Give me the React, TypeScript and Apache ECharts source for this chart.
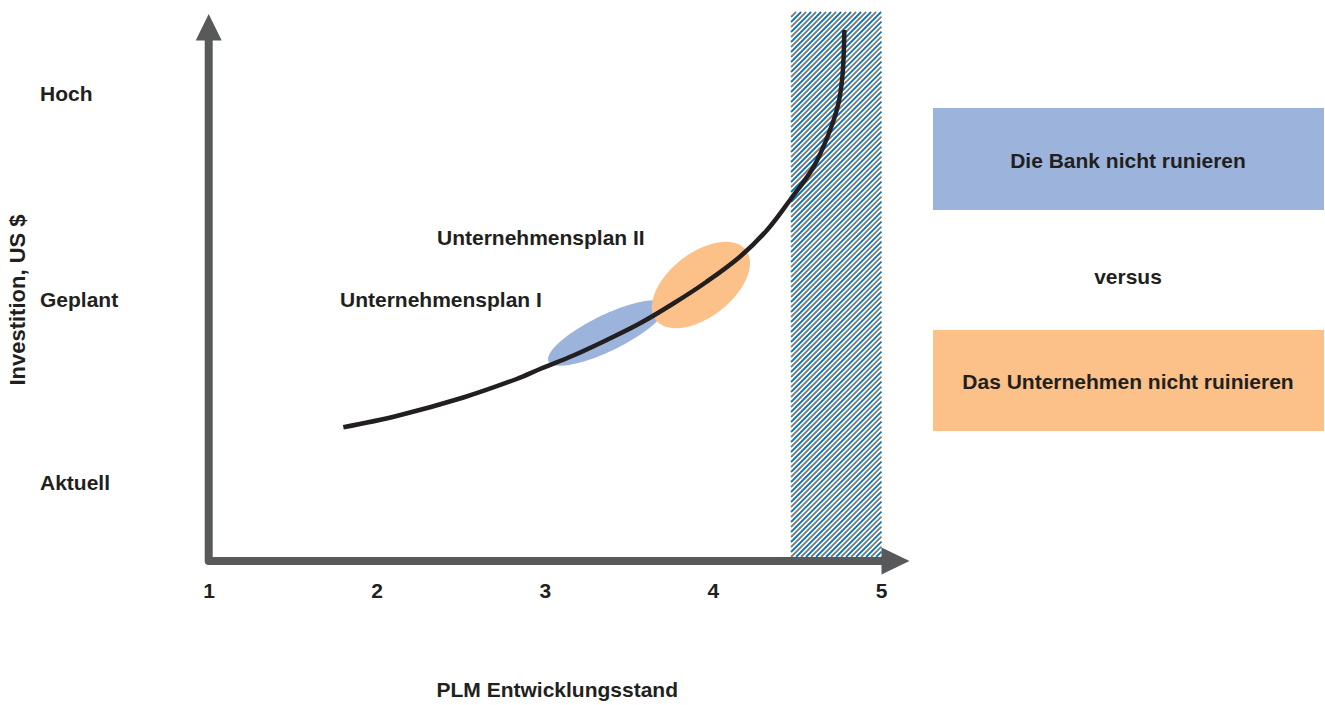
import React, { useEffect, useRef } from 'react';
import * as echarts from 'echarts';

// ---- data ----
const xTicks = [1, 2, 3, 4, 5];
const yTickValues = [13.6, 47.2, 85.1];
const yTickLabels = ['Aktuell', 'Geplant', 'Hoch'];
const curveX = [1.799, 2.116, 2.513, 2.83, 2.969, 3.167, 3.366, 3.564, 3.762, 3.96, 4.158, 4.317, 4.456, 4.594, 4.683, 4.743, 4.769, 4.779];
const curveY = [23.8, 25.87, 29.27, 32.66, 34.5, 36.97, 39.82, 42.88, 46.51, 50.51, 55.1, 59.91, 65.5, 71.47, 77.43, 83.12, 88.75, 96.7];
const zoneX = [4.462, 5];
const zoneY = [0, 100];
const planNames = ['Unternehmensplan I', 'Unternehmensplan II'];
const planCenterX = [3.367, 3.926];
const planCenterY = [41.1, 49.9];
const boxTexts = ['Die Bank nicht runieren', 'versus', 'Das Unternehmen nicht ruinieren'];
const xAxisTitle = 'PLM Entwicklungsstand';
const yAxisTitle = 'Investition, US $';

// ---- styles ----
const FONT = "'Liberation Sans', Arial, sans-serif";
const TEXT = '#231f20';
const AXIS = '#58595b';
const BLUE_FILL = '#9cb4dc';
const ORANGE_FILL = '#fbc189';
const STRIPE_BLUE = '#0b73bb';
const STRIPE_GRAY = '#7d7d7d';
const ellipseShapes = [
  { a: 65, b: 18, rot: 26, fill: BLUE_FILL },
  { a: 57, b: 32, rot: 38, fill: ORANGE_FILL },
];

export default function App() {
  const ref = useRef<HTMLDivElement>(null);
  useEffect(() => {
    if (!ref.current) return;
    const chart = echarts.init(ref.current, null, { renderer: 'svg' });
    const textBase = { fontFamily: FONT, fontWeight: 'bold', color: TEXT };
    const gText = (text: string, x: number, y: number, size: number, align: string, rotation = 0) => ({
      type: 'text',
      x,
      y,
      rotation,
      style: {
        text,
        fontFamily: FONT,
        fontWeight: 'bold',
        fontSize: size,
        fill: TEXT,
        textAlign: align,
        textVerticalAlign: 'middle',
      },
    });
    const option: any = {
      animation: false,
      backgroundColor: '#ffffff',
      grid: { left: 209, right: 443.5, top: 12, bottom: 148, containLabel: false },
      xAxis: {
        type: 'value',
        min: xTicks[0],
        max: xTicks[xTicks.length - 1],
        interval: 1,
        axisLine: { show: false },
        axisTick: { show: false },
        splitLine: { show: false },
        axisLabel: { ...textBase, fontSize: 21, margin: 23 },
        name: xAxisTitle,
        nameLocation: 'middle',
        nameGap: 122,
        nameTextStyle: { ...textBase, fontSize: 21, padding: [0, 0, 0, 24] },
      },
      yAxis: {
        type: 'value',
        min: 0,
        max: 100,
        axisLine: { show: false },
        axisTick: { show: false },
        splitLine: { show: false },
        axisLabel: {
          ...textBase,
          fontSize: 21,
          align: 'left',
          margin: 169,
          customValues: yTickValues,
          formatter: (v: number) => {
            const i = yTickValues.findIndex((t) => Math.abs(t - v) < 1e-6);
            return i >= 0 ? yTickLabels[i] : '';
          },
        },
      },
      series: [
        {
          type: 'custom',
          name: 'zone',
          clip: false,
          z: 1,
          data: [[zoneX[0], zoneX[1], zoneY[0], zoneY[1]]],
          renderItem: (params: any, api: any) => {
            const p0 = api.coord([api.value(0), api.value(3)]);
            const p1 = api.coord([api.value(1), api.value(2)]);
            const x0 = p0[0], y0 = p0[1], x1 = p1[0], y1 = p1[1];
            const children: any[] = [];
            const step = 5;
            let k = 0;
            for (let c = x0 + y0; c <= x1 + y1 + step; c += step, k++) {
              const xa = Math.max(x0, c - y1);
              const xb = Math.min(x1, c - y0);
              if (xb <= xa) continue;
              children.push({
                type: 'line',
                shape: { x1: xa, y1: c - xa, x2: xb, y2: c - xb },
                style: { stroke: k % 2 ? STRIPE_GRAY : STRIPE_BLUE, lineWidth: 1.8 },
              });
            }
            return { type: 'group', children };
          },
        },
        {
          type: 'custom',
          name: 'plans',
          clip: false,
          z: 2,
          data: planCenterX.map((x, i) => [x, planCenterY[i]]),
          renderItem: (params: any, api: any) => {
            const idx = params.dataIndex;
            const c = api.coord([api.value(0), api.value(1)]);
            const s = ellipseShapes[idx];
            const t = (s.rot * Math.PI) / 180;
            const pts: number[][] = [];
            for (let i = 0; i < 90; i++) {
              const th = (i / 90) * 2 * Math.PI;
              const ex = s.a * Math.cos(th);
              const ey = s.b * Math.sin(th);
              pts.push([c[0] + ex * Math.cos(t) + ey * Math.sin(t), c[1] - ex * Math.sin(t) + ey * Math.cos(t)]);
            }
            return { type: 'polygon', shape: { points: pts }, style: { fill: s.fill } };
          },
        },
        {
          type: 'line',
          name: 'Investition',
          z: 3,
          smooth: 0.35,
          showSymbol: false,
          clip: false,
          data: curveX.map((x, i) => [x, curveY[i]]),
          lineStyle: { color: TEXT, width: 4.5, cap: 'butt' },
        },
        {
          type: 'custom',
          name: 'axes',
          clip: false,
          z: 4,
          data: [[xTicks[0], zoneY[0]]],
          renderItem: (params: any, api: any) => {
            const cs = params.coordSys;
            const o = api.coord([xTicks[0], 0]);
            const e = api.coord([xTicks[xTicks.length - 1], 0]);
            const ax = o[0] - 0.3;
            const ay = o[1] + 4;
            const topY = cs.y + 28;
            const ex = e[0] + 0.5;
            return {
              type: 'group',
              children: [
                {
                  type: 'polyline',
                  shape: { points: [[ax, topY], [ax, ay], [ex, ay]] },
                  style: { stroke: AXIS, lineWidth: 8, fill: 'none', lineJoin: 'round' },
                },
                {
                  type: 'polygon',
                  shape: { points: [[ex - 0.5, ay - 13.5], [ex + 27.5, ay], [ex - 0.5, ay + 13.5]] },
                  style: { fill: AXIS },
                },
                {
                  type: 'polygon',
                  shape: { points: [[ax - 13, topY + 0.5], [ax, topY - 26], [ax + 13, topY + 0.5]] },
                  style: { fill: AXIS },
                },
              ],
            };
          },
        },
      ],
      graphic: [
        gText(yAxisTitle, 17, 300, 22, 'center', Math.PI / 2),
        gText(planNames[0], 340, 299, 21, 'left'),
        gText(planNames[1], 437, 237, 21, 'left'),
        { type: 'rect', shape: { x: 933, y: 108, width: 391, height: 102 }, style: { fill: BLUE_FILL } },
        gText(boxTexts[0], 1128, 160, 21, 'center'),
        gText(boxTexts[1], 1128, 276, 21, 'center'),
        { type: 'rect', shape: { x: 933, y: 330, width: 391, height: 101 }, style: { fill: ORANGE_FILL } },
        gText(boxTexts[2], 1128, 381, 21, 'center'),
      ],
    };
    chart.setOption(option);
    return () => chart.dispose();
  }, []);
  return <div ref={ref} style={{ position: 'fixed', left: 0, top: 0, width: 1325, height: 705 }} />;
}
